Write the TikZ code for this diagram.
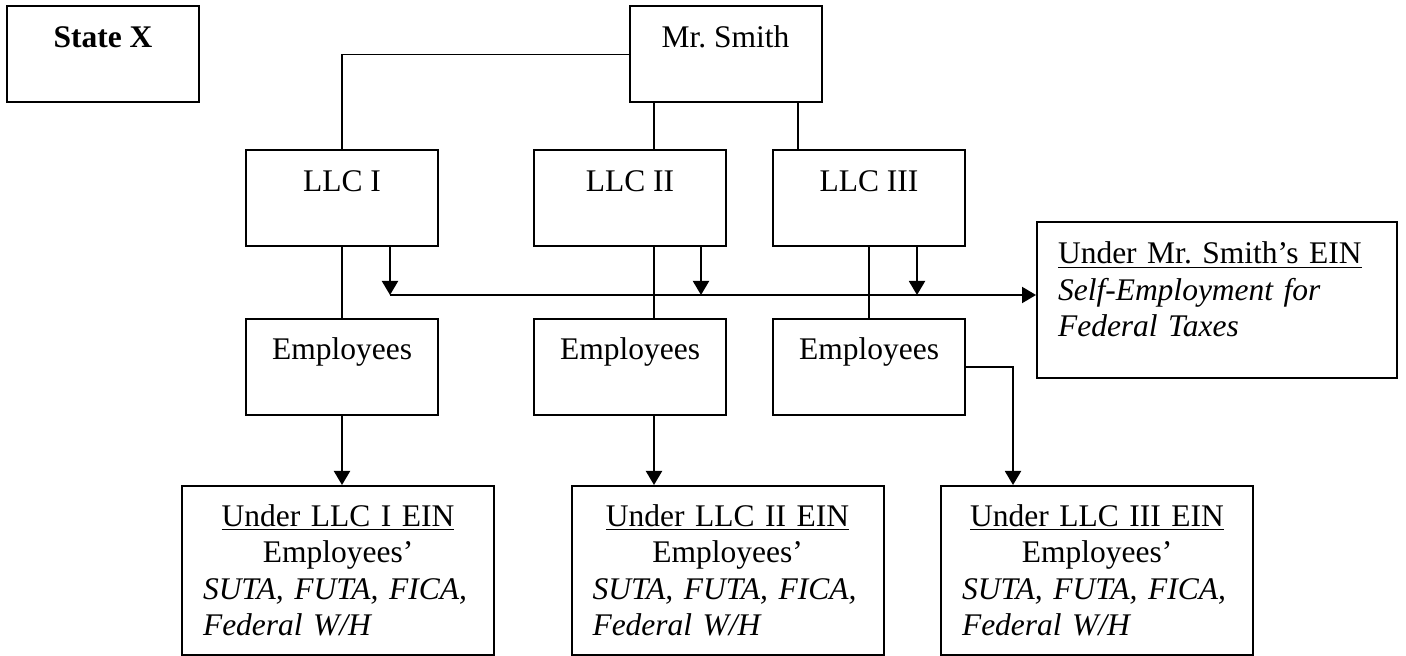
\documentclass[tikz,border=0pt]{standalone}
\usepackage{fontspec}
\setmainfont{Liberation Serif}
\usetikzlibrary{arrows.meta}
\frenchspacing

\begin{document}
\begin{tikzpicture}[x=0.5pt,y=-0.5pt,
		font=\fontsize{15.75pt}{18.25pt}\selectfont,
		unit/.style={draw, line width=1pt, minimum width=96pt, inner sep=0pt, text height=20.5pt, text depth=27.5pt},
		ein/.style={draw, line width=1pt, minimum width=156pt, minimum height=84.5pt, text width=135pt, inner xsep=10.5pt, inner ysep=0pt, align=center},
		link/.style={line width=0.75pt},
		arr/.style={line width=1pt, -{Triangle[length=7pt,width=8pt]}}]
			\useasboundingbox (0,0) rectangle (1406,656);
			\node[unit] (state) at (103,54.5) {\textbf{State X}};
			\node[unit] (smith) at (725.5,54.5) {Mr. Smith};
			\node[unit] (llc1) at (342,198.5) {LLC I};
			\node[unit] (llc2) at (630,198.5) {LLC II};
			\node[unit] (llc3) at (869,198.5) {LLC III};
			\node[unit] (emp1) at (342,367) {Employees};
			\node[unit] (emp2) at (630,367) {Employees};
			\node[unit] (emp3) at (869,367) {Employees};
			\node[ein] (ein1) at (338,570.5) {\underline{Under LLC I EIN}\\Employees'\\\textit{SUTA, FUTA, FICA,}\hfill\null\\\textit{Federal W/H}\hfill\null};
			\node[ein] (ein2) at (727.5,570.5) {\underline{Under LLC II EIN}\\Employees'\\\textit{SUTA, FUTA, FICA,}\hfill\null\\\textit{Federal W/H}\hfill\null};
			\node[ein] (ein3) at (1097,570.5) {\underline{Under LLC III EIN}\\Employees'\\\textit{SUTA, FUTA, FICA,}\hfill\null\\\textit{Federal W/H}\hfill\null};
			\node[ein, minimum width=180pt, minimum height=78pt, text width=159pt, align=left] (self) at (1217,300) {\underline{Under Mr. Smith's EIN}\\\textit{Self-Employment for}\\\textit{Federal Taxes}\rule[-10.5pt]{0pt}{10.5pt}};
			\coordinate (x2) at (654,0);
			\coordinate (x3) at (798,0);
			\coordinate (t2) at (701,0);
			\coordinate (t3) at (917,0);
			\coordinate (d3) at (1013,0);
			\coordinate (bus) at (390,295);
			\draw[link] (smith.west) -| (llc1.north);
			\draw[link] (smith.south -| x2) -- (llc2.north -| x2);
			\draw[link] (smith.south -| x3) -- (llc3.north -| x3);
			\draw[link] (llc1.south) -- (emp1.north);
			\draw[link] (llc2.south -| x2) -- (emp2.north -| x2);
			\draw[link] (llc3.south) -- (emp3.north);
			\draw[arr] (llc1.south -| bus) -- (bus);
			\draw[arr] (llc2.south -| t2) -- (bus -| t2);
			\draw[arr] (llc3.south -| t3) -- (bus -| t3);
			\draw[arr] (bus) -- (bus -| self.west);
			\draw[arr] (emp1.south) -- (emp1.south |- ein1.north);
			\draw[arr] (emp2.south -| x2) -- (ein2.north -| x2);
			\draw[arr] (emp3.east) -| (ein3.north -| d3);
		\end{tikzpicture}
\end{document}
